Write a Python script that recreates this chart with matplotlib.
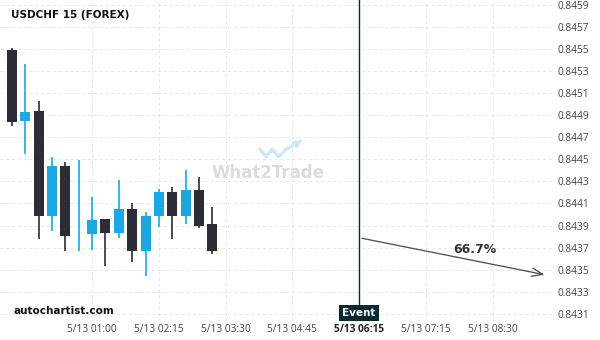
import numpy as np
import matplotlib
matplotlib.use("Agg")
import matplotlib.pyplot as plt

# 15-minute candles, first one at 5/12 23:30
opens = [0.84549, 0.84485, 0.84494, 0.84399, 0.84444, 0.84382, 0.84382, 0.84396,
         0.84383, 0.84405, 0.84367, 0.84399, 0.84420, 0.84399, 0.84422, 0.84391]
highs = [0.84551, 0.84536, 0.84503, 0.84452, 0.84448, 0.84449, 0.84416, 0.84396,
         0.84431, 0.84410, 0.84402, 0.84423, 0.84425, 0.84440, 0.84434, 0.84407]
lows = [0.84480, 0.84455, 0.84378, 0.84385, 0.84367, 0.84367, 0.84368, 0.84353,
        0.84379, 0.84357, 0.84344, 0.84389, 0.84378, 0.84391, 0.84388, 0.84364]
closes = [0.84484, 0.84493, 0.84399, 0.84444, 0.84381, 0.84382, 0.84395, 0.84383,
          0.84405, 0.84367, 0.84399, 0.84420, 0.84399, 0.84422, 0.84390, 0.84367]

x_ticks = [6, 11, 16, 21, 26, 31, 36]
x_labels = ["5/13 01:00", "5/13 02:15", "5/13 03:30", "5/13 04:45",
            "5/13 06:15", "5/13 07:15", "5/13 08:30"]
y_ticks = [0.8431 + 0.0002 * k for k in range(15)]

event_x = 26
arrow_start = (26, 0.84379)
arrow_end = (40.1, 0.84345)
prob_text = "66.7%"

bull = "#1ba8e0"
bear = "#2b2c35"
event_col = "#0b2a30"

fig = plt.figure(figsize=(6, 3.4), dpi=100)
ax = fig.add_axes([0.0, 0.056, 0.92, 0.944])

for i in range(len(opens)):
    o, h, l, c = opens[i], highs[i], lows[i], closes[i]
    col = bull if c >= o else bear
    ax.vlines(i, l, h, color=col, lw=1.2, zorder=3)
    body = max(abs(c - o), 0.000003)
    ax.bar(i, body, bottom=min(o, c), width=0.75, color=col, zorder=4)

ax.set_xlim(-0.9, 40.45)
ax.set_ylim(0.843036, 0.845943)

ax.set_yticks(y_ticks)
ax.set_yticklabels([f"{v:.4f}" for v in y_ticks])
ax.yaxis.tick_right()
ax.set_xticks(x_ticks)
ax.set_xticklabels(x_labels)
ax.tick_params(axis="both", length=0, labelsize=7.3, labelcolor="#444444")
ax.tick_params(axis="y", pad=4)
ax.tick_params(axis="x", pad=2)
for lab in ax.get_xticklabels() + ax.get_yticklabels():
    lab.set_family("Open Sans")
ax.get_xticklabels()[4].set_fontweight("bold")
ax.get_xticklabels()[4].set_color("#222222")

ax.grid(True, color="#e6e6e6", ls=(0, (3, 3)), lw=0.7, zorder=0)
for s in ax.spines.values():
    s.set_visible(False)

# event line and tag
ax.axvline(event_x, color=event_col, lw=1.0, zorder=5)
ax.text(event_x, 0.84311, "Event", color="white", fontsize=7.5,
        fontweight="bold", ha="center", va="center", zorder=6,
        bbox=dict(boxstyle="square,pad=0.3", fc=event_col, ec="none"))

# forecast arrow
ax.annotate("", xy=arrow_end, xytext=arrow_start,
            arrowprops=dict(arrowstyle="->,head_length=0.8,head_width=0.3",
                            color="#4a4a4a", lw=0.9), zorder=5)
ax.text(34.7, 0.84368, prob_text, fontsize=9, fontweight="bold",
        color="#333333", ha="center", va="center", zorder=6)

# watermark
ax.text(0.4855, 0.4625, "What2Trade", transform=ax.transAxes, fontsize=12,
        fontweight="bold", color="#dcdcdc", ha="center", va="center", zorder=1)
lx = np.array([260, 266, 272, 279, 286, 298]) / 552
ly = 1 - np.array([149, 156, 149, 156, 149, 142]) / 320
ax.plot(lx, ly, transform=ax.transAxes, color="#cfe7f6", lw=2.5, zorder=1)
ax.annotate("", xy=(302 / 552, 1 - 139 / 320), xytext=(lx[-1], ly[-1]),
            xycoords="axes fraction", textcoords="axes fraction",
            arrowprops=dict(arrowstyle="-|>", color="#cfe7f6", lw=2), zorder=1)

fig.text(11 / 600, 1 - 15 / 340, "USDCHF 15 (FOREX)", fontsize=7.5,
         fontweight="bold", color="#111111", va="center")
fig.text(14 / 600, 1 - 311 / 340, "autochartist.com", fontsize=7.5,
         fontweight="bold", color="#111111", va="center")

fig.savefig("out.png", dpi=100)
